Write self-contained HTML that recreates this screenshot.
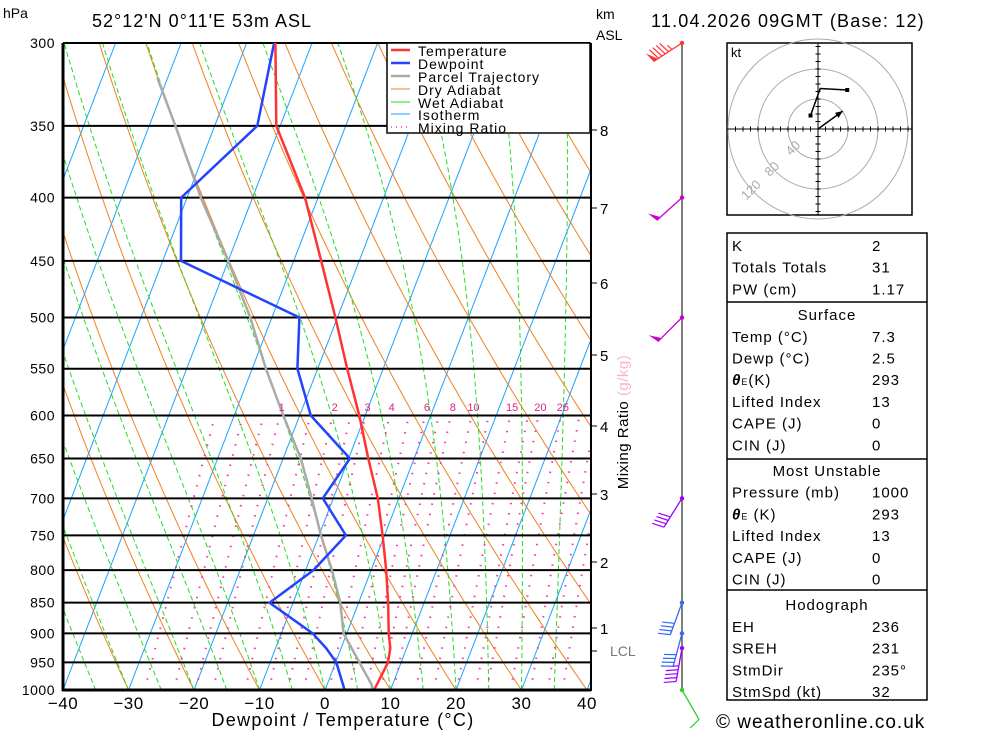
<!DOCTYPE html>
<html><head><meta charset="utf-8">
<style>
html,body{margin:0;padding:0;background:#fff;}
svg{display:block;font-family:"Liberation Sans",sans-serif;}
</style></head>
<body>
<svg id="chart" width="1000" height="733" viewBox="0 0 1000 733" xmlns="http://www.w3.org/2000/svg">
<defs><clipPath id="plotclip"><rect x="63" y="43" width="527" height="647"/></clipPath></defs>
<rect x="0" y="0" width="1000" height="733" fill="#fff"/>
<g id="bg" clip-path="url(#plotclip)"></g>
<g id="grid"></g>
<g id="profiles" clip-path="url(#plotclip)"></g>
<g id="axes"></g>
<g id="legend"></g>
<g id="winds"></g>
<g id="hodo"></g>
<g id="table"></g>
</svg>
<script>
const pLevels=[1000,950,925,900,850,800,750,700,650,600,550,500,450,400,350,300];
const tempVals=[7.5,8.0,7.5,6.4,4.5,2.3,-0.3,-3.2,-7.0,-10.9,-15.5,-20.3,-25.8,-32.0,-40.6,-45.6];
const dewVals=[3.0,0.1,-2.3,-5.2,-13.6,-8.8,-5.9,-11.6,-9.8,-18.3,-23.1,-25.8,-47.2,-50.9,-43.5,-45.8];
const parcelP=[1000,990,925,900,850,800,750,700,650,600,550,500,450,400,350,320];
const parcelT=[7.3,6.8,1.6,-0.5,-2.8,-6.0,-9.7,-13.3,-17.3,-22.5,-27.9,-33.3,-40.0,-47.9,-56.0,-61.6];
const xTicks=[-40,-30,-20,-10,0,10,20,30,40];
const isoTemps=[-120,-110,-100,-90,-80,-70,-60,-50,-40,-30,-20,-10,0,10,20,30,40];
const dryThetas=[-40,-30,-20,-10,0,10,20,30,40,50,60,70,80,90,100,110,120];
const wetThetas=[-40,-35,-30,-25,-20,-15,-10,-5,0,5,10,15,20,25,30,35];
const mixRatios=[1,2,3,4,6,8,10,15,20,25];
const mixExtra=[0.4,0.6,0.8,1.5,2.5,5,7,12,18,30,35,40];
const kmVals=[1,2,3,4,5,6,7,8];
const kmY=[628,562,494,426,355,283,208,130];
const windP=[300,400,500,700,850,900,925,1000];
const windDir=[237,228,225,212,200,195,190,150];
const windSpd=[95,50,50,40,40,40,45,10];
const windCol=["#f33","#c0c","#c0c","#90f","#36f","#36f","#90f","#3c3"];
const hodoU=[-10,3,39];
const hodoV=[18,54,52];
const stormU=[0,33];
const stormV=[0,24];

const NS="http://www.w3.org/2000/svg";
function el(tag,attrs,parent){const e=document.createElementNS(NS,tag);for(const k in attrs)e.setAttribute(k,attrs[k]);parent.appendChild(e);return e;}
function yP(p){return 43+647*Math.log(p/300)/Math.log(1000/300);}
function xT(T,p){return 325+6.55*T+0.385*(690-yP(p));}
const bg=document.getElementById('bg'),grid=document.getElementById('grid'),prof=document.getElementById('profiles'),axes=document.getElementById('axes');

isoTemps.forEach(T=>{
 const l=el('line',{x1:xT(T,1000),y1:690,x2:xT(T,300),y2:43,stroke:'#1aa3ff','stroke-width':1},bg);
 
 
});
dryThetas.forEach(th=>{
 const pts=[];for(let p=1000;p>=300;p-=10){const T=(th+273.15)*Math.pow(p/1000,0.286)-273.15;pts.push(xT(T,p).toFixed(1)+','+yP(p).toFixed(1));}
 const l=el('polyline',{points:pts.join(' '),fill:'none',stroke:'#f08020','stroke-width':1},bg);
 
 
});
function es(Tc){return 6.112*Math.exp(17.67*Tc/(Tc+243.5));}
wetThetas.forEach(tw=>{
 let T=tw+273.15,pts=[];
 for(let p=1000;p>=300;p-=5){
  pts.push(xT(T-273.15,p).toFixed(1)+','+yP(p).toFixed(1));
  const e=es(T-273.15),rs=0.622*e/(p-e),Lv=2.5e6,Rd=287,cp=1005;
  const dTdp=(Rd*T+Lv*rs)/(cp+Lv*Lv*rs*0.622/(Rd*T*T))/p;
  T-=dTdp*5;
 }
 const l=el('polyline',{points:pts.join(' '),fill:'none',stroke:'#22dd22','stroke-width':1,'stroke-dasharray':'5,3'},bg);
 
 
});
function mixLine(w){
 const pts=[];for(let p=1000;p>=600;p-=10){const e=w*p/(622+w);const a=Math.log(e/6.112);const Td=243.5*a/(17.67-a);pts.push(xT(Td,p).toFixed(1)+','+yP(p).toFixed(1));}
 const l=el('polyline',{points:pts.join(' '),fill:'none',stroke:'#ff33aa','stroke-width':2,'stroke-dasharray':'1.5,9'},bg);
 
 
}
mixExtra.forEach(mixLine);
mixRatios.forEach(w=>{
 mixLine(w);
 const e=w*600/(622+w),a=Math.log(e/6.112),Td=243.5*a/(17.67-a);
 const t=el('text',{x:xT(Td,600)+2,y:411,'font-size':11,fill:'#e0208a','text-anchor':'middle'},axes);
 t.textContent=w;
 
 
});
for(let p=300;p<=1000;p+=50){
 const y=yP(p);
 const l=el('line',{x1:63,y1:y,x2:590,y2:y,stroke:'#000','stroke-width':2},grid);
 
 
 const t=el('text',{x:55,y:y+5,'font-size':14,'text-anchor':'end',fill:'#000','letter-spacing':'0.5'},axes);
 t.textContent=p;
 
 
}
function line(ps,ts,col,w,name){
 const pts=ps.map((p,i)=>xT(ts[i],p).toFixed(1)+','+yP(p).toFixed(1)).join(' ');
 const l=el('polyline',{points:pts,fill:'none',stroke:col,'stroke-width':w,'stroke-linejoin':'round'},prof);
 
 
}
line(parcelP,parcelT,'#aaa',2.5,'parcel-trajectory');
line(pLevels,dewVals,'#2244ff',2.5,'dewpoint-line');
line(pLevels,tempVals,'#ff3333',2.5,'temperature-line');
el('line',{x1:63,y1:43,x2:63,y2:691,stroke:'#000','stroke-width':3},axes);
el('line',{x1:591,y1:43,x2:591,y2:691,stroke:'#000','stroke-width':2},axes);
el('line',{x1:62,y1:690,x2:591,y2:690,stroke:'#000','stroke-width':3},axes);
xTicks.forEach(T=>{
 const t=el('text',{x:325+6.55*T,y:709,'font-size':17,'text-anchor':'middle',fill:'#000','letter-spacing':'0.5'},axes);
 t.textContent=(T<0?'\u2212'+(-T):T);
 
 
});
kmVals.forEach((k,i)=>{
 el('line',{x1:591,y1:kmY[i],x2:597,y2:kmY[i],stroke:'#000'},axes);
 const t=el('text',{x:600,y:kmY[i]+6,'font-size':15,fill:'#000'},axes);
 t.textContent=k;
 
 
});
el('line',{x1:591,y1:651,x2:597,y2:651,stroke:'#000'},axes);
</script>
<script>
(function(){
const a=document.getElementById('axes');
a.insertAdjacentHTML('beforeend',`
<text x="3" y="18" font-size="14">hPa</text>
<text x="92" y="27" font-size="18" letter-spacing="1">52°12'N  0°11'E  53m  ASL</text>
<text x="596" y="19" font-size="14">km</text>
<text x="596" y="40" font-size="14">ASL</text>
<text x="651" y="27" font-size="18" letter-spacing="1.2">11.04.2026 09GMT (Base: 12)</text>
<text x="343" y="726" font-size="18" text-anchor="middle" letter-spacing="1.3">Dewpoint / Temperature (°C)</text>
<text x="610" y="656" font-size="14" fill="#777">LCL</text>
<text transform="translate(628,422) rotate(-90)" font-size="15" text-anchor="middle" letter-spacing="0.5"><tspan fill="#000">Mixing Ratio </tspan><tspan fill="#f7b3d6">(g/kg)</tspan></text>
<text x="716" y="728" font-size="19" letter-spacing="1">© weatheronline.co.uk</text>
`);
const lg=document.getElementById('legend');
lg.insertAdjacentHTML('beforeend',`
<rect x="387" y="43" width="203" height="90" fill="#fff" stroke="#000" stroke-width="1.5"/>
<line x1="387" y1="133" x2="590" y2="133" stroke="#444" stroke-width="2"/>
<g font-size="14" letter-spacing="1">
<line x1="391" y1="50" x2="410" y2="50" stroke="#f33" stroke-width="2.5"/><text x="418" y="56">Temperature</text>
<line x1="391" y1="63" x2="410" y2="63" stroke="#24f" stroke-width="2.5"/><text x="418" y="69">Dewpoint</text>
<line x1="391" y1="76" x2="410" y2="76" stroke="#aaa" stroke-width="2.5"/><text x="418" y="82">Parcel Trajectory</text>
<line x1="391" y1="89" x2="410" y2="89" stroke="#f08020" stroke-width="1"/><text x="418" y="95">Dry Adiabat</text>
<line x1="391" y1="102" x2="410" y2="102" stroke="#2d2" stroke-width="1"/><text x="418" y="108">Wet Adiabat</text>
<line x1="391" y1="114" x2="410" y2="114" stroke="#1aa3ff" stroke-width="1"/><text x="418" y="120">Isotherm</text>
<line x1="391" y1="127" x2="410" y2="127" stroke="#f3a" stroke-width="1.5" stroke-dasharray="1,4"/><text x="418" y="133">Mixing Ratio</text>
</g>`);
})();
(function(){
const NS="http://www.w3.org/2000/svg";
const g=document.getElementById('winds');
function el(tag,attrs,parent){const e=document.createElementNS(NS,tag);for(const k in attrs)e.setAttribute(k,attrs[k]);parent.appendChild(e);return e;}
function yP(p){return 43+647*Math.log(p/300)/Math.log(1000/300);}
el('line',{x1:682,y1:43,x2:682,y2:690,stroke:'#555','stroke-width':1.5},g);
windP.forEach((p,i)=>{
 const x=682,y=yP(p),d=windDir[i]*Math.PI/180,L=34,c=windCol[i];
 const ux=Math.sin(d),uy=-Math.cos(d);
 const ex=x+L*ux,ey=y+L*uy;
 const bg2=el('g',{},g);
 
 
 el('line',{x1:x,y1:y,x2:ex,y2:ey,stroke:c,'stroke-width':1.3},bg2);
 el('circle',{cx:x,cy:y,r:2.2,fill:c},bg2);
 const px=-uy,py=ux;
 let s=windSpd[i],pos=0;
 while(s>=50){const bx=ex-ux*pos,by=ey-uy*pos;el('polygon',{points:`${bx},${by} ${bx+px*11+ux*2},${by+py*11+uy*2} ${bx-ux*5},${by-uy*5}`,fill:c},bg2);pos+=6;s-=50;}
 while(s>=10){const bx=ex-ux*pos,by=ey-uy*pos;el('line',{x1:bx,y1:by,x2:bx+px*12+ux*3,y2:by+py*12+uy*3,stroke:c,'stroke-width':1.2},bg2);pos+=4;s-=10;}
 if(s>=5){const bx=ex-ux*pos,by=ey-uy*pos;el('line',{x1:bx,y1:by,x2:bx+px*6+ux*1.5,y2:by+py*6+uy*1.5,stroke:c,'stroke-width':1.2},bg2);}
});
const h=document.getElementById('hodo');
const cx=818,cy=129,sc=30/40;
el('rect',{x:727,y:43,width:185,height:172,fill:'#fff',stroke:'#000','stroke-width':1.5},h);
[40,80,120].forEach(r=>{const c=el('circle',{cx:cx,cy:cy,r:r*sc,fill:'none',stroke:'#aaa'},h);});
el('line',{x1:727,y1:cy,x2:912,y2:cy,stroke:'#000'},h);
el('line',{x1:cx,y1:43,x2:cx,y2:215,stroke:'#000'},h);
for(let k=-120;k<=120;k+=10){if(!k)continue;const o=k*sc;
 if(cx+o>729&&cx+o<910)el('line',{x1:cx+o,y1:cy-2.5,x2:cx+o,y2:cy+2.5,stroke:'#000'},h);
 if(cy+o>45&&cy+o<213)el('line',{x1:cx-2.5,y1:cy+o,x2:cx+2.5,y2:cy+o,stroke:'#000'},h);}
const lab=[['40',cx-22,cy+22],['80',cx-43,cy+43],['120',cx-64,cy+64]];
lab.forEach(l=>{const t=el('text',{transform:`translate(${l[1]},${l[2]}) rotate(-45)`,'font-size':13,fill:'#aaa','text-anchor':'middle'},h);t.textContent=l[0];});
const kt=el('text',{x:731,y:57,'font-size':13,fill:'#000'},h);kt.textContent='kt';
const hp=hodoU.map((u,i)=>(cx+u*sc)+','+(cy-hodoV[i]*sc)).join(' ');
const hl=el('polyline',{points:hp,fill:'none',stroke:'#000','stroke-width':1.5},h);


[0,hodoU.length-1].forEach(i=>el('rect',{x:cx+hodoU[i]*sc-2,y:cy-hodoV[i]*sc-2,width:4,height:4,fill:'#000'},h));
const sx=cx+stormU[1]*sc,sy=cy-stormV[1]*sc;
const sm=el('line',{x1:cx+stormU[0]*sc,y1:cy-stormV[0]*sc,x2:sx,y2:sy,stroke:'#000','stroke-width':1.5},h);


const ang=Math.atan2(sy-cy,sx-cx);
el('polygon',{points:`${sx},${sy} ${sx-8*Math.cos(ang-0.4)},${sy-8*Math.sin(ang-0.4)} ${sx-8*Math.cos(ang+0.4)},${sy-8*Math.sin(ang+0.4)}`,fill:'#000'},h);
})();
(function(){
const t=document.getElementById('table');
const rows=[['K','2'],['Totals Totals','31'],['PW (cm)','1.17'],null,['Temp (°C)','7.3'],['Dewp (°C)','2.5'],['<tspan font-weight="bold" font-style="italic">θ</tspan><tspan font-size="9">E</tspan>(K)','293'],['Lifted Index','13'],['CAPE (J)','0'],['CIN (J)','0'],null,['Pressure (mb)','1000'],['<tspan font-weight="bold" font-style="italic">θ</tspan><tspan font-size="9">E</tspan> (K)','293'],['Lifted Index','13'],['CAPE (J)','0'],['CIN (J)','0'],null,['EH','236'],['SREH','231'],['StmDir','235°'],['StmSpd (kt)','32']];
const heads=['Surface','Most Unstable','Hodograph'];
let html=`<rect x="727" y="233" width="200" height="467" fill="#fff" stroke="#000" stroke-width="1.5"/>`;
[302,459,590].forEach(y=>html+=`<line x1="727" y1="${y}" x2="927" y2="${y}" stroke="#000" stroke-width="1.5"/>`);
let y=251,hi=0;
rows.forEach(r=>{
 if(r===null){y+=4;html+=`<text x="827" y="${y}" font-size="15" text-anchor="middle" letter-spacing="1">${heads[hi++]}</text>`;y+=21.7;return;}
 html+=`<text x="732" y="${y}" font-size="15" letter-spacing="1">${r[0]}</text><text x="872" y="${y}" font-size="15" letter-spacing="1">${r[1]}</text>`;
 y+=21.7;
});
t.innerHTML=html;
})();
</script>
</body></html>
